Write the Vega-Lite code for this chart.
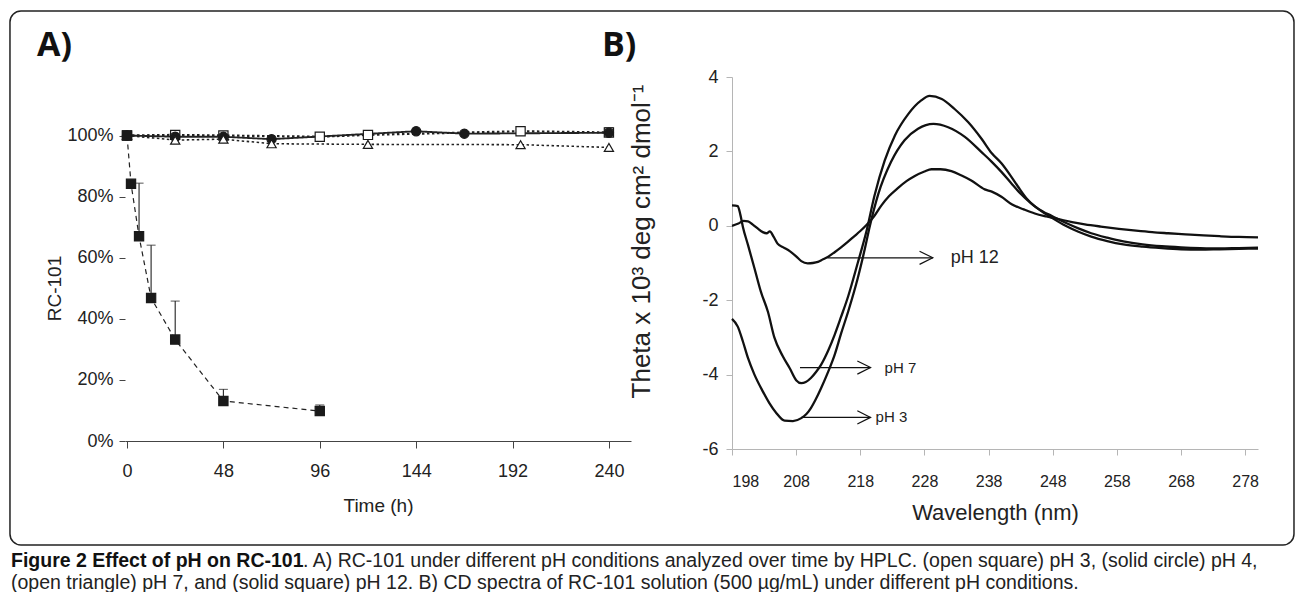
{
  "$schema": "https://vega.github.io/schema/vega-lite/v6.json",
  "background": "white",
  "padding": {"left": 9, "top": 10, "right": 2, "bottom": 0},
  "config": {
    "view": {"stroke": null},
    "font": "Liberation Sans",
    "axis": {"grid": false, "labelColor": "#222", "titleColor": "#222", "titleFontWeight": "normal"}
  },
  "spacing": 4,
  "datasets": {
    "hplc": [
      {"ph": "pH 3", "t": 0, "v": 1.0},
      {"ph": "pH 3", "t": 24, "v": 1.002},
      {"ph": "pH 3", "t": 48, "v": 1.0},
      {"ph": "pH 3", "t": 96, "v": 0.996},
      {"ph": "pH 3", "t": 120, "v": 1.002},
      {"ph": "pH 3", "t": 196, "v": 1.014},
      {"ph": "pH 3", "t": 240, "v": 1.01, "err": 1.026},
      {"ph": "pH 4", "t": 0, "v": 1.0},
      {"ph": "pH 4", "t": 24, "v": 0.996},
      {"ph": "pH 4", "t": 48, "v": 0.996},
      {"ph": "pH 4", "t": 72, "v": 0.988},
      {"ph": "pH 4", "t": 144, "v": 1.014},
      {"ph": "pH 4", "t": 168, "v": 1.006},
      {"ph": "pH 4", "t": 240, "v": 1.009},
      {"ph": "pH 7", "t": 0, "v": 1.0},
      {"ph": "pH 7", "t": 24, "v": 0.985},
      {"ph": "pH 7", "t": 48, "v": 0.988},
      {"ph": "pH 7", "t": 72, "v": 0.973},
      {"ph": "pH 7", "t": 120, "v": 0.971},
      {"ph": "pH 7", "t": 196, "v": 0.97},
      {"ph": "pH 7", "t": 240, "v": 0.961},
      {"ph": "pH 12", "t": 0, "v": 1.0},
      {"ph": "pH 12", "t": 2, "v": 0.842},
      {"ph": "pH 12", "t": 6, "v": 0.67, "err": 0.844},
      {"ph": "pH 12", "t": 12, "v": 0.468, "err": 0.641},
      {"ph": "pH 12", "t": 24, "v": 0.332, "err": 0.458},
      {"ph": "pH 12", "t": 48, "v": 0.131, "err": 0.169},
      {"ph": "pH 12", "t": 96, "v": 0.098, "err": 0.118}
    ],
    "cd": [
      {"ph": "pH 12", "nm": 198, "theta": 0},
      {"ph": "pH 12", "nm": 199, "theta": 0.06},
      {"ph": "pH 12", "nm": 199.8, "theta": 0.13},
      {"ph": "pH 12", "nm": 200.5, "theta": 0.12},
      {"ph": "pH 12", "nm": 201.2, "theta": 0.04},
      {"ph": "pH 12", "nm": 202, "theta": -0.07},
      {"ph": "pH 12", "nm": 202.8, "theta": -0.17},
      {"ph": "pH 12", "nm": 203.4, "theta": -0.2},
      {"ph": "pH 12", "nm": 203.9, "theta": -0.15},
      {"ph": "pH 12", "nm": 204.5, "theta": -0.3},
      {"ph": "pH 12", "nm": 205.1, "theta": -0.48},
      {"ph": "pH 12", "nm": 206, "theta": -0.58},
      {"ph": "pH 12", "nm": 207, "theta": -0.68},
      {"ph": "pH 12", "nm": 208, "theta": -0.82},
      {"ph": "pH 12", "nm": 208.8, "theta": -0.95},
      {"ph": "pH 12", "nm": 209.8, "theta": -1.01},
      {"ph": "pH 12", "nm": 210.6, "theta": -1.0},
      {"ph": "pH 12", "nm": 211.4, "theta": -0.97},
      {"ph": "pH 12", "nm": 212.2, "theta": -0.9},
      {"ph": "pH 12", "nm": 213, "theta": -0.83},
      {"ph": "pH 12", "nm": 214, "theta": -0.71},
      {"ph": "pH 12", "nm": 215, "theta": -0.58},
      {"ph": "pH 12", "nm": 216, "theta": -0.44},
      {"ph": "pH 12", "nm": 217, "theta": -0.29},
      {"ph": "pH 12", "nm": 218, "theta": -0.14},
      {"ph": "pH 12", "nm": 219, "theta": 0.03},
      {"ph": "pH 12", "nm": 220, "theta": 0.22},
      {"ph": "pH 12", "nm": 221.3, "theta": 0.55},
      {"ph": "pH 12", "nm": 222.5, "theta": 0.8},
      {"ph": "pH 12", "nm": 223.9, "theta": 1.02},
      {"ph": "pH 12", "nm": 225.2, "theta": 1.2},
      {"ph": "pH 12", "nm": 226.5, "theta": 1.34},
      {"ph": "pH 12", "nm": 228, "theta": 1.46},
      {"ph": "pH 12", "nm": 229.1, "theta": 1.52},
      {"ph": "pH 12", "nm": 230.5, "theta": 1.52},
      {"ph": "pH 12", "nm": 232.2, "theta": 1.47},
      {"ph": "pH 12", "nm": 233.7, "theta": 1.36},
      {"ph": "pH 12", "nm": 235.3, "theta": 1.22},
      {"ph": "pH 12", "nm": 237.4, "theta": 0.98},
      {"ph": "pH 12", "nm": 238.5, "theta": 0.92},
      {"ph": "pH 12", "nm": 240, "theta": 0.78},
      {"ph": "pH 12", "nm": 241.6, "theta": 0.58},
      {"ph": "pH 12", "nm": 243.5, "theta": 0.44},
      {"ph": "pH 12", "nm": 245.2, "theta": 0.33},
      {"ph": "pH 12", "nm": 247, "theta": 0.25},
      {"ph": "pH 12", "nm": 248.9, "theta": 0.18},
      {"ph": "pH 12", "nm": 251, "theta": 0.1},
      {"ph": "pH 12", "nm": 253, "theta": 0.04},
      {"ph": "pH 12", "nm": 255.5, "theta": -0.02},
      {"ph": "pH 12", "nm": 258.3, "theta": -0.08},
      {"ph": "pH 12", "nm": 261, "theta": -0.13},
      {"ph": "pH 12", "nm": 263.5, "theta": -0.17},
      {"ph": "pH 12", "nm": 266, "theta": -0.2},
      {"ph": "pH 12", "nm": 268.7, "theta": -0.23},
      {"ph": "pH 12", "nm": 271.5, "theta": -0.26},
      {"ph": "pH 12", "nm": 274, "theta": -0.28},
      {"ph": "pH 12", "nm": 277, "theta": -0.3},
      {"ph": "pH 12", "nm": 280, "theta": -0.31},
      {"ph": "pH 7", "nm": 198, "theta": 0.55},
      {"ph": "pH 7", "nm": 198.9, "theta": 0.53},
      {"ph": "pH 7", "nm": 199.3, "theta": 0.3},
      {"ph": "pH 7", "nm": 199.7, "theta": -0.03},
      {"ph": "pH 7", "nm": 200.5, "theta": -0.52},
      {"ph": "pH 7", "nm": 201.5, "theta": -1.14},
      {"ph": "pH 7", "nm": 202.5, "theta": -1.77},
      {"ph": "pH 7", "nm": 203.6, "theta": -2.31},
      {"ph": "pH 7", "nm": 204.6, "theta": -3.0},
      {"ph": "pH 7", "nm": 205.9, "theta": -3.5},
      {"ph": "pH 7", "nm": 207, "theta": -3.83},
      {"ph": "pH 7", "nm": 208, "theta": -4.15},
      {"ph": "pH 7", "nm": 208.8, "theta": -4.23},
      {"ph": "pH 7", "nm": 209.5, "theta": -4.2},
      {"ph": "pH 7", "nm": 210.3, "theta": -4.09},
      {"ph": "pH 7", "nm": 211.1, "theta": -3.93},
      {"ph": "pH 7", "nm": 211.9, "theta": -3.73},
      {"ph": "pH 7", "nm": 213, "theta": -3.35},
      {"ph": "pH 7", "nm": 214, "theta": -2.93},
      {"ph": "pH 7", "nm": 215, "theta": -2.45},
      {"ph": "pH 7", "nm": 216.1, "theta": -1.9},
      {"ph": "pH 7", "nm": 217.6, "theta": -1.0},
      {"ph": "pH 7", "nm": 219, "theta": -0.12},
      {"ph": "pH 7", "nm": 220.2, "theta": 0.8},
      {"ph": "pH 7", "nm": 221.8, "theta": 1.75},
      {"ph": "pH 7", "nm": 223.4, "theta": 2.43},
      {"ph": "pH 7", "nm": 225.5, "theta": 3.01},
      {"ph": "pH 7", "nm": 227.5, "theta": 3.37},
      {"ph": "pH 7", "nm": 228.8, "theta": 3.49},
      {"ph": "pH 7", "nm": 230.7, "theta": 3.41},
      {"ph": "pH 7", "nm": 232.7, "theta": 3.14},
      {"ph": "pH 7", "nm": 234.8, "theta": 2.79},
      {"ph": "pH 7", "nm": 236.9, "theta": 2.34},
      {"ph": "pH 7", "nm": 238.5, "theta": 1.95},
      {"ph": "pH 7", "nm": 240, "theta": 1.68},
      {"ph": "pH 7", "nm": 241.5, "theta": 1.33},
      {"ph": "pH 7", "nm": 242.6, "theta": 1.05},
      {"ph": "pH 7", "nm": 244, "theta": 0.72},
      {"ph": "pH 7", "nm": 245.2, "theta": 0.52},
      {"ph": "pH 7", "nm": 246.5, "theta": 0.38},
      {"ph": "pH 7", "nm": 247.8, "theta": 0.27},
      {"ph": "pH 7", "nm": 250, "theta": 0.08},
      {"ph": "pH 7", "nm": 252, "theta": -0.07},
      {"ph": "pH 7", "nm": 254, "theta": -0.2},
      {"ph": "pH 7", "nm": 256.5, "theta": -0.32},
      {"ph": "pH 7", "nm": 259, "theta": -0.42},
      {"ph": "pH 7", "nm": 262, "theta": -0.5},
      {"ph": "pH 7", "nm": 265, "theta": -0.55},
      {"ph": "pH 7", "nm": 268, "theta": -0.58},
      {"ph": "pH 7", "nm": 271, "theta": -0.6},
      {"ph": "pH 7", "nm": 274, "theta": -0.61},
      {"ph": "pH 7", "nm": 277, "theta": -0.6},
      {"ph": "pH 7", "nm": 280, "theta": -0.59},
      {"ph": "pH 3", "nm": 198, "theta": -2.5},
      {"ph": "pH 3", "nm": 198.9, "theta": -2.71},
      {"ph": "pH 3", "nm": 199.7, "theta": -3.11},
      {"ph": "pH 3", "nm": 200.5, "theta": -3.56},
      {"ph": "pH 3", "nm": 201.5, "theta": -4.0},
      {"ph": "pH 3", "nm": 202.8, "theta": -4.45},
      {"ph": "pH 3", "nm": 203.8, "theta": -4.76},
      {"ph": "pH 3", "nm": 204.9, "theta": -5.03},
      {"ph": "pH 3", "nm": 206.2, "theta": -5.24},
      {"ph": "pH 3", "nm": 207.5, "theta": -5.25},
      {"ph": "pH 3", "nm": 208.8, "theta": -5.17},
      {"ph": "pH 3", "nm": 209.6, "theta": -5.06},
      {"ph": "pH 3", "nm": 210.3, "theta": -4.9},
      {"ph": "pH 3", "nm": 211.1, "theta": -4.65},
      {"ph": "pH 3", "nm": 211.9, "theta": -4.36},
      {"ph": "pH 3", "nm": 213, "theta": -3.92},
      {"ph": "pH 3", "nm": 214, "theta": -3.47},
      {"ph": "pH 3", "nm": 215, "theta": -2.9},
      {"ph": "pH 3", "nm": 216.1, "theta": -2.31},
      {"ph": "pH 3", "nm": 217.6, "theta": -1.41},
      {"ph": "pH 3", "nm": 218.6, "theta": -0.7},
      {"ph": "pH 3", "nm": 219.5, "theta": 0.0},
      {"ph": "pH 3", "nm": 220.8, "theta": 0.85},
      {"ph": "pH 3", "nm": 222.8, "theta": 1.72},
      {"ph": "pH 3", "nm": 224.9, "theta": 2.3},
      {"ph": "pH 3", "nm": 227, "theta": 2.61},
      {"ph": "pH 3", "nm": 229.4, "theta": 2.74},
      {"ph": "pH 3", "nm": 231.7, "theta": 2.65},
      {"ph": "pH 3", "nm": 234.3, "theta": 2.39},
      {"ph": "pH 3", "nm": 236.9, "theta": 1.98},
      {"ph": "pH 3", "nm": 238.5, "theta": 1.72},
      {"ph": "pH 3", "nm": 240, "theta": 1.45},
      {"ph": "pH 3", "nm": 241.5, "theta": 1.15},
      {"ph": "pH 3", "nm": 243, "theta": 0.86},
      {"ph": "pH 3", "nm": 244.5, "theta": 0.62},
      {"ph": "pH 3", "nm": 246, "theta": 0.42},
      {"ph": "pH 3", "nm": 248, "theta": 0.2},
      {"ph": "pH 3", "nm": 250, "theta": 0.0},
      {"ph": "pH 3", "nm": 252, "theta": -0.16},
      {"ph": "pH 3", "nm": 254, "theta": -0.29},
      {"ph": "pH 3", "nm": 256.5, "theta": -0.41},
      {"ph": "pH 3", "nm": 259, "theta": -0.5},
      {"ph": "pH 3", "nm": 262, "theta": -0.56},
      {"ph": "pH 3", "nm": 265, "theta": -0.6},
      {"ph": "pH 3", "nm": 268, "theta": -0.63},
      {"ph": "pH 3", "nm": 271, "theta": -0.64},
      {"ph": "pH 3", "nm": 274, "theta": -0.63},
      {"ph": "pH 3", "nm": 277, "theta": -0.62},
      {"ph": "pH 3", "nm": 280, "theta": -0.61}
    ],
    "arrows": [
      {"label": "pH 12", "x1": 212.9, "x2": 229.3, "y": -0.86},
      {"label": "pH 7", "x1": 208.6, "x2": 219.6, "y": -3.81},
      {"label": "pH 3", "x1": 208.8, "x2": 219.6, "y": -5.15}
    ],
    "caption": [
      {"line": 1, "seg": "b", "text": "Figure 2 Effect of pH on RC-101"},
      {"line": 1, "seg": "r1", "text": ". A) RC-101 under different pH conditions analyzed over time by HPLC. (open square) pH 3, (solid circle) pH 4,"},
      {"line": 2, "seg": "r2", "text": "(open triangle) pH 7, and (solid square) pH 12. B) CD spectra of RC-101 solution (500 µg/mL) under different pH conditions."}
    ]
  },
  "vconcat": [
    {
      "bounds": "flush",
      "spacing": 101,
      "hconcat": [
        {
          "width": 506,
          "height": 364,
          "title": {"text": "A)", "anchor": "start", "frame": "group", "dx": -88, "fontSize": 34, "font": "Open Sans", "fontWeight": "bold", "offset": 14.5, "color": "#111"},
          "data": {"name": "hplc"},
          "encoding": {
            "x": {"field": "t", "type": "quantitative", "title": "Time (h)",
              "scale": {"domain": [-1, 251], "nice": false, "zero": false},
              "axis": {"values": [0, 48, 96, 144, 192, 240], "domainColor": "#444", "tickColor": "#444", "tickSize": 7, "labelFontSize": 18, "labelPadding": 14, "titleFontSize": 19, "titlePadding": 16}},
            "y": {"field": "v", "type": "quantitative", "title": "RC-101",
              "scale": {"domain": [0, 1.1915], "nice": false},
              "axis": {"values": [0, 0.2, 0.4, 0.6, 0.8, 1.0], "format": ".0%", "domain": false, "tickColor": "#444", "tickSize": 6, "labelFontSize": 18, "labelPadding": 6, "titleFontSize": 19, "titlePadding": 2, "titleY": 211}}
          },
          "layer": [
            {
              "data": {"values": [{}]},
              "mark": {"type": "rule", "color": "#444", "strokeWidth": 1},
              "encoding": {"x": {"datum": -1}, "y": {"datum": 0}, "y2": {"datum": 1.1}}
            },
            {
              "mark": {"type": "line", "color": "#222"},
              "encoding": {
                "detail": {"field": "ph"},
                "strokeDash": {"field": "ph", "type": "nominal", "legend": null, "scale": {"domain": ["pH 3", "pH 4", "pH 7", "pH 12"], "range": [[2.5, 2.5], [1, 0], [2.5, 2.5], [5, 4]]}},
                "strokeWidth": {"field": "ph", "type": "nominal", "legend": null, "scale": {"domain": ["pH 3", "pH 4", "pH 7", "pH 12"], "range": [2.2, 1.2, 2.2, 1]}}
              }
            },
            {
              "transform": [{"filter": "isValid(datum.err)"}],
              "mark": {"type": "rule", "color": "#222", "strokeWidth": 1.1},
              "encoding": {"y2": {"field": "err"}}
            },
            {
              "transform": [{"filter": "isValid(datum.err)"}],
              "mark": {"type": "tick", "orient": "horizontal", "size": 9, "thickness": 1.1, "color": "#222"},
              "encoding": {"y": {"field": "err", "type": "quantitative", "title": "RC-101"}}
            },
            {
              "mark": {"type": "point", "size": 85, "stroke": "#1a1a1a", "strokeWidth": 1.2, "opacity": 1, "fillOpacity": 1},
              "encoding": {
                "shape": {"field": "ph", "type": "nominal", "legend": null, "scale": {"domain": ["pH 3", "pH 4", "pH 7", "pH 12"], "range": ["square", "circle", "triangle-up", "square"]}},
                "fill": {"field": "ph", "type": "nominal", "legend": null, "scale": {"domain": ["pH 3", "pH 4", "pH 7", "pH 12"], "range": ["#ffffff", "#1a1a1a", "#ffffff", "#1a1a1a"]}}
              }
            }
          ]
        },
        {
          "width": 526,
          "height": 372,
          "title": {"text": "B)", "anchor": "start", "frame": "group", "dx": -130, "fontSize": 34, "font": "Open Sans", "fontWeight": "bold", "offset": -52.25, "color": "#111"},
          "layer": [
            {
              "data": {"values": [{}]},
              "mark": {"type": "rect", "filled": false, "stroke": "#222", "strokeWidth": 1.5, "cornerRadius": 11},
              "encoding": {
                "x": {"datum": 85.44},
                "x2": {"datum": 285.61},
                "y": {"datum": 5.774},
                "y2": {"datum": -8.581}
              }
            },
            {
              "data": {"name": "cd"},
              "mark": {"type": "line", "color": "#111", "strokeWidth": 2.3, "interpolate": "monotone"},
              "encoding": {
                "x": {"field": "nm", "type": "quantitative", "title": "Wavelength (nm)",
                  "scale": {"domain": [198, 280], "nice": false, "zero": false},
                  "axis": {"values": [198, 208, 218, 228, 238, 248, 258, 268, 278], "domainColor": "#b5b5b5", "tickColor": "#b5b5b5", "tickSize": 6, "labelFontSize": 16, "labelPadding": 18, "titleFontSize": 22, "titlePadding": 13}},
                "y": {"field": "theta", "type": "quantitative", "title": "Theta x 10³ deg cm² dmol⁻¹",
                  "scale": {"domain": [-6, 4], "nice": false, "zero": false},
                  "axis": {"values": [-6, -5, -4, -3, -2, -1, 0, 1, 2, 3, 4], "labelOverlap": false, "labelExpr": "replace(datum.label, '−', '-')", "domainColor": "#b5b5b5", "tickColor": "#b5b5b5", "tickSize": 6, "labelFontSize": 18, "labelPadding": 8, "titleFontSize": 26, "titlePadding": 47, "titleY": 164}},
                "detail": {"field": "ph"}
              }
            },
            {
              "data": {"name": "arrows"},
              "mark": {"type": "rule", "color": "#111", "strokeWidth": 1.2},
              "encoding": {
                "x": {"field": "x1", "type": "quantitative", "title": "Wavelength (nm)"},
                "x2": {"field": "x2"},
                "y": {"field": "y", "type": "quantitative", "title": "Theta x 10³ deg cm² dmol⁻¹"}
              }
            },
            {
              "data": {"name": "arrows"},
              "mark": {"type": "point", "shape": "M-1,-0.5L0,0L-1,0.5", "size": 700, "filled": false, "color": "#111", "strokeWidth": 1.2, "opacity": 1},
              "encoding": {
                "x": {"field": "x2", "type": "quantitative", "title": "Wavelength (nm)"},
                "y": {"field": "y", "type": "quantitative", "title": "Theta x 10³ deg cm² dmol⁻¹"}
              }
            },
            {
              "data": {"name": "arrows"},
              "transform": [{"filter": "datum.label == 'pH 12'"}],
              "mark": {"type": "text", "align": "left", "baseline": "middle", "dx": 18, "fontSize": 18, "font": "Liberation Sans", "color": "#222"},
              "encoding": {
                "x": {"field": "x2", "type": "quantitative", "title": "Wavelength (nm)"},
                "y": {"field": "y", "type": "quantitative", "title": "Theta x 10³ deg cm² dmol⁻¹"},
                "text": {"field": "label"}
              }
            },
            {
              "data": {"name": "arrows"},
              "transform": [{"filter": "datum.label == 'pH 7'"}],
              "mark": {"type": "text", "align": "left", "baseline": "middle", "dx": 14, "fontSize": 15, "font": "Liberation Sans", "color": "#222"},
              "encoding": {
                "x": {"field": "x2", "type": "quantitative", "title": "Wavelength (nm)"},
                "y": {"field": "y", "type": "quantitative", "title": "Theta x 10³ deg cm² dmol⁻¹"},
                "text": {"field": "label"}
              }
            },
            {
              "data": {"name": "arrows"},
              "transform": [{"filter": "datum.label == 'pH 3'"}],
              "mark": {"type": "text", "align": "left", "baseline": "middle", "dx": 5, "fontSize": 15, "font": "Liberation Sans", "color": "#222"},
              "encoding": {
                "x": {"field": "x2", "type": "quantitative", "title": "Wavelength (nm)"},
                "y": {"field": "y", "type": "quantitative", "title": "Theta x 10³ deg cm² dmol⁻¹"},
                "text": {"field": "label"}
              }
            }
          ]
        }
      ]
    },
    {
      "width": 1160,
      "height": 42,
      "data": {"name": "caption"},
      "encoding": {
        "y": {"field": "line", "type": "ordinal", "axis": null, "scale": {"padding": 0.4545}},
        "x": {"value": 0},
        "text": {"field": "text"}
      },
      "layer": [
        {
          "transform": [{"filter": "datum.seg == 'b'"}],
          "mark": {"type": "text", "align": "left", "baseline": "middle", "dx": -114, "font": "Liberation Sans", "fontWeight": "bold", "fontSize": 19.5, "color": "#111"}
        },
        {
          "transform": [{"filter": "datum.seg == 'r1'"}],
          "mark": {"type": "text", "align": "left", "baseline": "middle", "dx": 178, "font": "Liberation Sans", "fontSize": 19.5, "color": "#222"}
        },
        {
          "transform": [{"filter": "datum.seg == 'r2'"}],
          "mark": {"type": "text", "align": "left", "baseline": "middle", "dx": -114, "font": "Liberation Sans", "fontSize": 19.5, "color": "#222"}
        }
      ]
    }
  ]
}
